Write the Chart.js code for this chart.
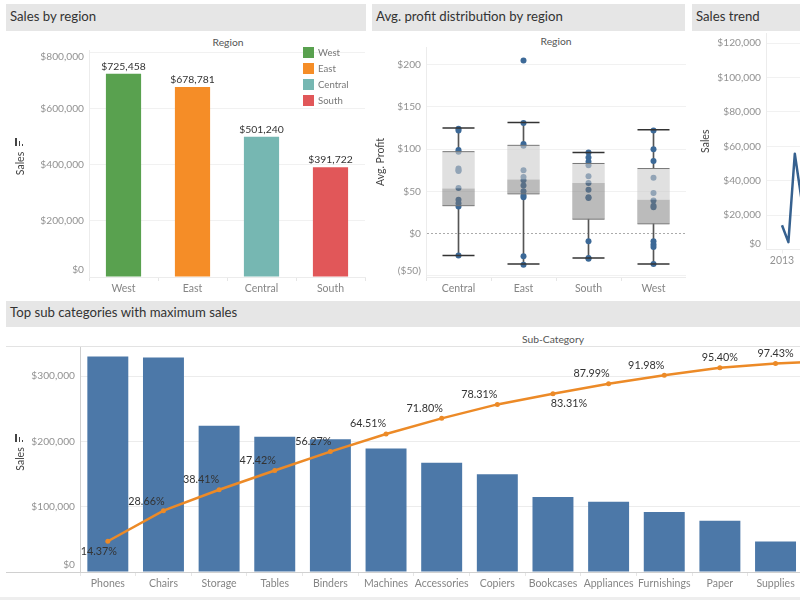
<!DOCTYPE html>
<html>
<head>
<meta charset="utf-8">
<script src="https://cdn.jsdelivr.net/npm/chart.js@4"></script>
<style>
  html, body { margin: 0; background: #fff; overflow: hidden; width: 800px; height: 600px; font-family: Lato, sans-serif; }
  canvas, .head, .cap, .rule, .key, .sort { position: absolute; }
  .head { background: #e6e6e6; color: #333; font-size: 13.2px; line-height: 25px; padding-left: 4px; box-sizing: border-box; }
  .cap { color: #555; font-size: 10.3px; transform: translateX(-50%); }
  .rule { background: #e3e3e3; }
  .key { color: #777; font-size: 9.6px; line-height: 12px; padding-left: 15px; }
  .key i { position: absolute; left: 0; top: 0; width: 11px; height: 11px; }
  .sort { width: 9px; height: 8px; }
  .sort b { position: absolute; bottom: 0; background: #444; width: 1px; }
</style>
</head>
<body>
<div class="head" style="left:6px;top:4px;width:360px;height:27px">Sales by region</div>
<div class="head" style="left:372px;top:4px;width:313px;height:27px">Avg. profit distribution by region</div>
<div class="head" style="left:692px;top:4px;width:108px;height:27px">Sales trend</div>
<div class="head" style="left:6px;top:301px;width:794px;height:26px;line-height:23px">Top sub categories with maximum sales</div>

<div class="cap" style="left:228px;top:36px">Region</div>
<div class="cap" style="left:556px;top:35px">Region</div>
<div class="cap" style="left:553px;top:333px">Sub-Category</div>

<canvas id="regionChart" width="366" height="268" style="left:0;top:32px"></canvas>
<canvas id="profitChart" width="314" height="268" style="left:372px;top:32px"></canvas>
<canvas id="trendChart" width="114" height="268" style="left:692px;top:32px"></canvas>
<canvas id="paretoChart" width="860" height="268" style="left:0;top:328px"></canvas>

<div class="rule" style="left:6px;top:346px;width:794px;height:1px"></div>
<div class="rule" style="left:6px;top:572px;width:794px;height:1px;background:#d0d0d0"></div>
<div class="rule" style="left:0;top:597px;width:800px;height:3px;background:#eee"></div>

<div id="regionKeys"></div>
<div class="sort" style="left:15px;top:138px"><b style="left:0;width:2px;height:8px"></b><b style="left:4px;height:5px"></b><b style="left:7px;height:2px"></b></div>
<div class="sort" style="left:15px;top:434px"><b style="left:0;width:2px;height:8px"></b><b style="left:4px;height:5px"></b><b style="left:7px;height:2px"></b></div>

<script>
const regions = ["West", "East", "Central", "South"];
const regionSales = [725458, 678781, 501240, 391722];
const regionColors = ["#59a14f", "#f58d27", "#76b7b2", "#e15759"];
const regionTicks = [0, 200000, 400000, 600000, 800000];

const boxRegions = ["Central", "East", "South", "West"];
const boxLow = [-26, -36, -29, -36];
const boxQ1 = [33, 47, 17, 11.5];
const boxMedian = [53.5, 64, 60, 40];
const boxQ3 = [97, 104.5, 83, 77];
const boxHigh = [125, 131.5, 96, 123];
const centralProfit = [124, 122, 99, 97, 77, 75, 74, 54, 40, 36, 32, -26];
const eastProfit = [205, 131, 106, 104, 75, 67, 63, 57, 50, 45, 43, -27, -37];
const southProfit = [96, 90, 85, 81, 68, 60, 52, 43, 42, -9, -29, -30];
const westProfit = [122, 100, 86, 66, 48, 39, 33, 31, -9, -13, -16, -36];
const profitTicks = [-50, 0, 50, 100, 150, 200];

const trendYears = [2013, 2013.25, 2013.5, 2013.75];
const trendSales = [14100, 4300, 55700, 30300];
const trendTicks = [0, 20000, 40000, 60000, 80000, 100000, 120000];

const subCategories = ["Phones", "Chairs", "Storage", "Tables", "Binders", "Machines", "Accessories",
  "Copiers", "Bookcases", "Appliances", "Furnishings", "Paper", "Supplies", "Art"];
const subSales = [330007, 328449, 223844, 206966, 203413, 189239, 167380, 149528, 114880, 107532, 91705, 78479, 46674, 27119];
const runningPct = [14.37, 28.66, 38.41, 47.42, 56.27, 64.51, 71.80, 78.31, 83.31, 87.99, 91.98, 95.40, 97.43, 98.61];
const subTicks = [0, 100000, 200000, 300000];

// where Tableau happened to put each percent label, relative to its point
const pctLabelDx = [-9, -17, -18, -17, -17, -18, -17, -18, 16, -17, -18, 0, 0, 0];
const pctLabelDy = [10, -9, -10, -10, -10, -10, -10, -10, 10, -10, -10, -10, -10, -10];

Chart.defaults.font.family = "Lato";
Chart.defaults.font.size = 10.5;
Chart.defaults.animation = false;
Chart.defaults.layout.autoPadding = false;

const GRID = "#f1f1f1";
const TICK_TEXT = "#929292";

function money(v) {
  const s = "$" + Math.abs(v).toLocaleString("en-US");
  return v < 0 ? `(${s})` : s;
}

// y labels are drawn here so the end ones can sit inside the axis like the original
function yLabels(shifts) {
  return {
    id: "yLabels",
    afterDraw(chart) {
      const { ctx } = chart;
      const scale = chart.scales.y;
      ctx.save();
      ctx.font = "10.2px Lato";
      ctx.fillStyle = TICK_TEXT;
      ctx.textAlign = "right";
      ctx.textBaseline = "middle";
      scale.ticks.forEach((t) => {
        const y = scale.getPixelForValue(t.value) + (shifts[t.value] || 0);
        ctx.fillText(money(t.value), scale.right - 5, y);
      });
      ctx.restore();
    },
  };
}

function fixedAxis(min, max, ticks) {
  return (scale) => {
    scale.ticks = ticks.map((value) => ({ value }));
    scale.min = min;
    scale.max = max;
  };
}

function yAxis(width, min, max, ticks, title, opts = {}) {
  return {
    min,
    max,
    afterBuildTicks: fixedAxis(min, max, ticks),
    afterFit(scale) { scale.width = width; },
    ticks: { display: false },
    grid: { color: opts.grid || GRID, drawTicks: false, ...opts.gridExtra },
    border: { color: opts.border || "#ececec", ...opts.borderExtra },
    title: { display: true, text: title, color: "#444", font: { size: 10.5 }, padding: 0 },
  };
}

function xCategory(height) {
  return {
    offset: true,
    afterFit(scale) { scale.height = height; },
    grid: { offset: true, drawOnChartArea: false, tickLength: 4, color: "#e6e6e6" },
    border: { color: "#ececec" },
    ticks: { color: "#858585", padding: 1, maxRotation: 0, autoSkip: false, font: { size: 10.5 } },
  };
}

// ---- sales by region
new Chart(document.getElementById("regionChart"), {
  type: "bar",
  data: {
    labels: regions,
    datasets: [{ data: regionSales, backgroundColor: regionColors, barPercentage: 0.51, categoryPercentage: 1 }],
  },
  options: {
    responsive: false,
    layout: { padding: { left: 14, top: 18, right: 1, bottom: 0 } },
    plugins: { legend: { display: false }, tooltip: { enabled: false } },
    scales: { x: xCategory(23), y: yAxis(75, 0, 810700, regionTicks, "Sales") },
  },
  plugins: [
    yLabels({ 0: -7, 800000: 4 }),
    {
      id: "barValues",
      afterDatasetsDraw(chart) {
        const { ctx } = chart;
        ctx.save();
        ctx.font = "10.4px Lato";
        ctx.fillStyle = "#333";
        ctx.textAlign = "center";
        chart.getDatasetMeta(0).data.forEach((bar, i) => {
          ctx.fillText(money(regionSales[i]), bar.x, bar.y - 4);
        });
        ctx.restore();
      },
    },
  ],
});

regions.forEach((r, i) => {
  const el = document.createElement("div");
  el.className = "key";
  el.style.left = "303px";
  el.style.top = 47 + i * 16 + "px";
  el.innerHTML = `<i style="background:${regionColors[i]}"></i>${r}`;
  document.getElementById("regionKeys").appendChild(el);
});

// ---- profit box plot, built from floating bars and point datasets
const boxPoints = [centralProfit, eastProfit, southProfit, westProfit]
  .flatMap((vals, i) => vals.map((y) => ({ x: boxRegions[i], y })));
const atRegion = (vals) => vals.map((y, i) => ({ x: boxRegions[i], y }));
const whisker = (a, b) => ({
  data: a.map((v, i) => [v, b[i]]),
  backgroundColor: "#555",
  barThickness: 1,
  grouped: false,
  order: 5,
});
const boxPart = (a, b, color) => ({
  data: a.map((v, i) => [v, b[i]]),
  backgroundColor: color,
  barPercentage: 0.5,
  categoryPercentage: 1,
  grouped: false,
  order: 2,
});
const edge = (vals, color, width) => ({
  type: "line",
  showLine: false,
  data: atRegion(vals),
  pointStyle: "line",
  pointRadius: 16,
  pointBorderColor: color,
  pointBorderWidth: width,
  order: 1,
});

new Chart(document.getElementById("profitChart"), {
  type: "bar",
  data: {
    labels: boxRegions,
    datasets: [
      whisker(boxLow, boxQ1),
      whisker(boxQ3, boxHigh),
      {
        type: "line",
        showLine: false,
        data: boxPoints,
        pointRadius: 3,
        pointBackgroundColor: "#3c6997",
        pointBorderWidth: 0,
        order: 3,
      },
      boxPart(boxQ1, boxMedian, "rgba(119,119,119,0.5)"),
      boxPart(boxMedian, boxQ3, "rgba(203,203,203,0.6)"),
      edge(boxQ1, "#777", 1),
      edge(boxQ3, "#777", 1),
      edge(boxLow, "#333", 1.5),
      edge(boxHigh, "#333", 1.5),
    ],
  },
  options: {
    responsive: false,
    layout: { padding: { left: 2, top: 15, right: 0, bottom: 0 } },
    plugins: { legend: { display: false }, tooltip: { enabled: false } },
    scales: {
      x: xCategory(23),
      y: yAxis(52, -51.5, 221, profitTicks, "Avg. Profit", {
        gridExtra: { color: (c) => (c.tick && c.tick.value === 0 ? "#aaa" : GRID) },
        borderExtra: { dash: (c) => (c.tick && c.tick.value === 0 ? [2, 2] : []) },
      }),
    },
  },
  plugins: [yLabels({ "-50": -5 })],
});

// ---- sales trend, runs off the right edge of the page
new Chart(document.getElementById("trendChart"), {
  type: "line",
  data: {
    datasets: [{
      data: trendYears.map((x, i) => ({ x, y: trendSales[i] })),
      borderColor: "#36618f",
      borderWidth: 2.5,
      borderJoinStyle: "round",
      pointRadius: 0,
    }],
  },
  options: {
    responsive: false,
    layout: { padding: { left: 7, top: 1, right: 0, bottom: 0 } },
    plugins: { legend: { display: false }, tooltip: { enabled: false } },
    scales: {
      x: {
        type: "linear",
        min: 2012.375,
        max: 2013.9375,
        afterBuildTicks: fixedAxis(2012.375, 2013.9375, [2013]),
        afterFit(scale) { scale.height = 50.5; },
        grid: { drawOnChartArea: false, tickLength: 4, color: "#eee" },
        border: { color: "#ececec" },
        ticks: { color: TICK_TEXT, padding: 1, maxRotation: 0, callback: (v) => String(v) },
      },
      y: yAxis(67, 0, 125900, trendTicks, "Sales"),
    },
  },
  plugins: [yLabels({ 0: -6 })],
});

// ---- pareto of sub-categories
new Chart(document.getElementById("paretoChart"), {
  type: "bar",
  data: {
    labels: subCategories,
    datasets: [
      {
        type: "line",
        data: runningPct,
        yAxisID: "pct",
        borderColor: "#ec8a27",
        borderWidth: 2.5,
        pointRadius: 2.5,
        pointBackgroundColor: "#ec8a27",
        pointBorderWidth: 0,
        order: 0,
      },
      {
        data: subSales,
        backgroundColor: "#4c78a8",
        barPercentage: 0.736,
        categoryPercentage: 1,
        order: 1,
      },
    ],
  },
  options: {
    responsive: false,
    layout: { padding: { left: 14, top: 18, right: 1, bottom: 0 } },
    plugins: { legend: { display: false }, tooltip: { enabled: false } },
    scales: {
      x: xCategory(24),
      y: yAxis(66, 0, 346000, subTicks, "Sales", { grid: "#ececec", border: "#cfcfcf" }),
      pct: {
        display: false,
        position: "right",
        min: 0,
        max: 105.6,
        afterBuildTicks: fixedAxis(0, 105.6, [0, 100]),
      },
    },
  },
  plugins: [
    yLabels({ 0: -7 }),
    {
      id: "pctLabels",
      afterDatasetsDraw(chart) {
        const { ctx } = chart;
        ctx.save();
        ctx.font = "10.8px Lato";
        ctx.fillStyle = "#333";
        ctx.textAlign = "center";
        ctx.textBaseline = "middle";
        chart.getDatasetMeta(0).data.forEach((pt, i) => {
          ctx.fillText(runningPct[i].toFixed(2) + "%", pt.x + pctLabelDx[i], pt.y + pctLabelDy[i]);
        });
        ctx.restore();
      },
    },
  ],
});
</script>
</body>
</html>
